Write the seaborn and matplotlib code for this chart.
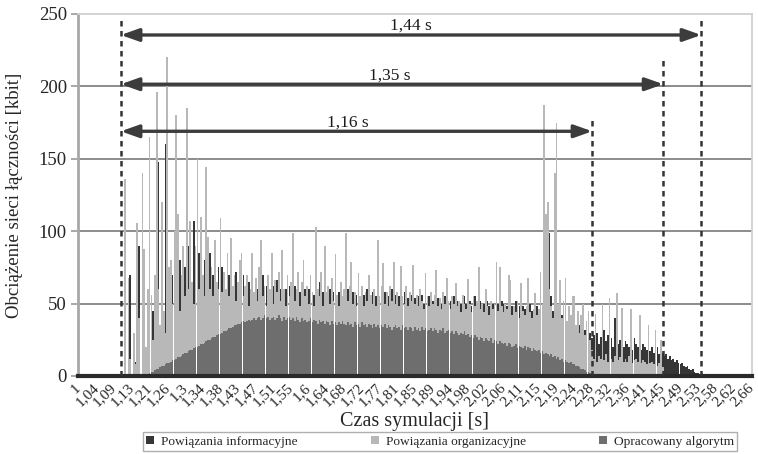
import numpy as np
import pandas as pd
import matplotlib
matplotlib.use("Agg")
import matplotlib.pyplot as plt
import seaborn as sns
from matplotlib.patches import Patch
from matplotlib.font_manager import FontProperties

# Simulation-time tick labels (one label every 10 samples)
tick_labels = ["1", "1,04", "1,09", "1,13", "1,21", "1,26", "1,3", "1,34", "1,38",
               "1,43", "1,47", "1,51", "1,55", "1,6", "1,64", "1,68", "1,72", "1,77",
               "1,81", "1,85", "1,89", "1,94", "1,98", "2,02", "2,06", "2,11", "2,15",
               "2,19", "2,24", "2,28", "2,32", "2,36", "2,41", "2,45", "2,49", "2,53",
               "2,58", "2,62", "2,66"]

# Network load [kbit] per sample, ten samples per row
informacyjne = [
    0, 0, 0, 0, 0, 0, 0, 0, 0, 0,
    0, 0, 0, 0, 0, 0, 0, 0, 0, 0,
    0, 0, 0, 0, 0, 0, 0, 0, 0, 70,
    0, 0, 10, 0, 90, 0, 0, 0, 0, 0,
    0, 0, 45, 0, 0, 148, 0, 60, 0, 160,
    0, 40, 0, 70, 0, 0, 0, 80, 0, 0,
    75, 0, 90, 0, 0, 107, 0, 0, 85, 0,
    60, 80, 0, 0, 85, 0, 70, 0, 50, 75,
    40, 75, 45, 50, 40, 70, 45, 50, 60, 72,
    50, 45, 55, 70, 48, 52, 65, 50, 78, 45,
    45, 60, 50, 48, 70, 45, 62, 48, 50, 80,
    62, 45, 66, 50, 60, 45, 48, 60, 50, 62,
    48, 55, 62, 50, 45, 58, 50, 52, 60, 45,
    60, 48, 50, 56, 82, 45, 65, 50, 58, 80,
    50, 45, 60, 48, 58, 62, 50, 58, 45, 50,
    48, 62, 60, 50, 45, 58, 50, 56, 45, 48,
    45, 56, 50, 60, 48, 45, 58, 50, 55, 52,
    48, 45, 50, 58, 46, 55, 45, 60, 50, 56,
    45, 55, 48, 42, 58, 45, 54, 46, 56, 50,
    54, 45, 55, 48, 56, 50, 46, 52, 55, 44,
    52, 44, 48, 54, 42, 50, 46, 55, 45, 50,
    52, 42, 55, 46, 52, 44, 50, 42, 55, 50,
    45, 52, 48, 44, 55, 42, 50, 52, 44, 50,
    44, 52, 48, 42, 50, 45, 52, 50, 44, 52,
    50, 42, 48, 45, 40, 48, 42, 52, 40, 48,
    40, 48, 46, 44, 42, 50, 45, 42, 40, 48,
    45, 50, 48, 60, 70, 80, 99, 55, 45, 40,
    70, 45, 40, 42, 35, 40, 36, 32, 38, 30,
    32, 30, 28, 35, 26, 30, 32, 28, 27, 30,
    26, 28, 24, 30, 22, 27, 25, 32, 24, 28,
    22, 26, 20, 40, 24, 22, 25, 28, 20, 24,
    22, 20, 24, 18, 26, 22, 20, 25, 18, 22,
    20, 18, 22, 17, 20, 16, 18, 20, 15, 17,
    16, 14, 15, 12, 14, 11, 12, 10, 11, 9,
    8, 9, 7, 6, 7, 5, 4, 5, 3, 2,
    2, 1, 0, 0, 0, 0, 0, 0, 0, 0,
    0, 0, 0, 0, 0, 0, 0, 0, 0, 0,
    0, 0, 0, 0, 0, 0, 0, 0, 0, 0,
    0]

organizacyjne = [
    0, 0, 0, 0, 0, 0, 0, 0, 0, 0,
    0, 0, 0, 0, 0, 0, 0, 0, 0, 0,
    0, 0, 0, 0, 0, 0, 136, 0, 68, 12,
    0, 30, 8, 106, 40, 0, 140, 88, 20, 60,
    165, 56, 25, 70, 196, 60, 35, 120, 45, 30,
    220, 75, 80, 50, 100, 180, 112, 45, 70, 90,
    55, 185, 60, 107, 65, 50, 90, 150, 60, 110,
    70, 55, 144, 96, 60, 75, 55, 94, 65, 60,
    109, 58, 72, 60, 85, 55, 95, 62, 70, 52,
    65, 80, 85, 55, 62, 70, 48, 60, 85, 58,
    68, 52, 75, 94, 55, 62, 48, 70, 60, 85,
    50, 66, 58, 72, 52, 87, 60, 48, 70, 55,
    65, 99, 52, 60, 72, 48, 65, 80, 55, 62,
    50, 70, 58, 48, 103, 60, 55, 72, 48, 90,
    58, 62, 50, 68, 52, 84, 56, 48, 65, 55,
    60, 99, 52, 62, 79, 50, 58, 48, 71, 55,
    62, 48, 58, 52, 70, 56, 50, 60, 48, 94,
    55, 62, 78, 50, 58, 48, 62, 52, 79, 50,
    58, 48, 76, 55, 50, 62, 48, 58, 52, 77,
    50, 56, 48, 60, 52, 46, 71, 55, 48, 58,
    50, 56, 73, 48, 54, 46, 58, 50, 68, 52,
    46, 55, 50, 64, 48, 52, 44, 56, 50, 46,
    67, 50, 44, 55, 48, 52, 75, 46, 50, 44,
    60, 48, 42, 52, 46, 50, 79, 45, 75, 48,
    44, 50, 46, 70, 66, 42, 48, 44, 52, 40,
    64, 45, 42, 48, 68, 44, 40, 46, 57, 42,
    46, 72, 50, 187, 112, 120, 60, 48, 40, 140,
    175, 50, 66, 40, 52, 68, 38, 48, 42, 55,
    55, 35, 45, 30, 42, 50, 28, 38, 45, 25,
    18, 12, 43, 10, 14, 12, 50, 11, 15, 10,
    54, 12, 10, 14, 57, 11, 13, 47, 10, 12,
    10, 14, 46, 9, 11, 12, 10, 42, 9, 11,
    10, 8, 35, 9, 10, 8, 32, 7, 9, 25,
    6, 0, 0, 0, 0, 0, 0, 0, 0, 0,
    0, 0, 0, 0, 0, 0, 0, 0, 0, 0,
    0, 0, 0, 0, 0, 0, 0, 0, 0, 0,
    0, 0, 0, 0, 0, 0, 0, 0, 0, 0,
    0, 0, 0, 0, 0, 0, 0, 0, 0, 0,
    0]

algorytm = [
    0, 0, 0, 0, 0, 0, 0, 0, 0, 0,
    0, 0, 0, 0, 0, 0, 0, 0, 0, 0,
    0, 0, 0, 0, 0, 0, 0, 0, 0, 0,
    0, 0, 0, 0, 0, 0, 0, 0, 0, 0,
    2, 3, 3, 4, 5, 5, 6, 7, 7, 8,
    9, 9, 10, 11, 11, 12, 13, 13, 14, 15,
    16, 16, 17, 18, 18, 19, 20, 20, 21, 22,
    22, 23, 24, 25, 25, 26, 27, 27, 28, 29,
    29, 30, 31, 31, 32, 33, 33, 34, 35, 35,
    36, 36, 37, 38, 37, 38, 39, 38, 39, 40,
    39, 40, 41, 39, 40, 42, 40, 41, 39, 40,
    41, 39, 40, 42, 40, 38, 41, 39, 40, 41,
    39, 40, 38, 41, 39, 37, 40, 38, 39, 37,
    38, 40, 37, 39, 38, 36, 39, 37, 38, 36,
    38, 37, 35, 38, 36, 37, 35, 37, 36, 38,
    36, 35, 37, 35, 36, 34, 37, 35, 36, 34,
    37, 35, 36, 34, 36, 35, 33, 36, 34, 35,
    33, 35, 34, 36, 33, 35, 34, 32, 34, 35,
    33, 34, 32, 35, 33, 34, 32, 34, 33, 31,
    34, 32, 33, 31, 34, 32, 33, 31, 32, 33,
    31, 33, 32, 30, 32, 31, 33, 30, 31, 32,
    30, 31, 29, 31, 30, 28, 30, 29, 31, 28,
    29, 27, 28, 26, 28, 27, 25, 27, 26, 24,
    26, 25, 24, 26, 23, 25, 24, 22, 24, 23,
    22, 23, 21, 23, 22, 20, 21, 22, 19, 21,
    20, 19, 21, 18, 20, 19, 17, 19, 18, 17,
    18, 16, 17, 15, 16, 15, 14, 15, 13, 14,
    12, 13, 11, 12, 10, 11, 10, 9, 10, 8,
    8, 7, 7, 6, 5, 5, 4, 3, 3, 2,
    1, 0, 0, 0, 0, 0, 0, 0, 0, 0,
    0, 0, 0, 0, 0, 0, 0, 0, 0, 0,
    0, 0, 0, 0, 0, 0, 0, 0, 0, 0,
    0, 0, 0, 0, 0, 0, 0, 0, 0, 0,
    0, 0, 0, 0, 0, 0, 0, 0, 0, 0,
    0, 0, 0, 0, 0, 0, 0, 0, 0, 0,
    0, 0, 0, 0, 0, 0, 0, 0, 0, 0,
    0, 0, 0, 0, 0, 0, 0, 0, 0, 0,
    0, 0, 0, 0, 0, 0, 0, 0, 0, 0,
    0]

series_names = ["Powiązania informacyjne", "Powiązania organizacyjne", "Opracowany algorytm"]
duration_labels = ["1,44 s", "1,35 s", "1,16 s"]

DARK = "#363636"
LIGHT = "#b8b8b8"
MID = "#6e6e6e"
ARROW = "#3c3c3c"
SERIF = ["Liberation Serif", "DejaVu Serif"]

sns.set_theme(style="white")
plt.rcParams["font.family"] = SERIF

W, H = 758, 454
fig = plt.figure(figsize=(W / 100, H / 100), dpi=100)
ax = fig.add_axes([78 / W, 1 - 376 / H, (752 - 78) / W, (376 - 14) / H])

n = len(algorytm)
df = pd.DataFrame({"k": np.arange(n), "inf": informacyjne,
                   "org": organizacyjne, "alg": algorytm})

# grid behind the bars
for yv in [50, 100, 150, 200]:
    ax.axhline(yv, color="#8c8c8c", lw=1.4, zorder=0)

# overlapping columns: informacyjne at the back, algorytm in front
for col, color in [("inf", DARK), ("org", LIGHT), ("alg", MID)]:
    sns.barplot(data=df, x="k", y=col, color=color, width=0.95, errorbar=None,
                saturation=1, linewidth=0, ax=ax, zorder=2)

ax.set_xlim(-0.5, n - 0.5)
ax.set_ylim(0, 250)
ax.set_yticks([0, 50, 100, 150, 200, 250])
ax.set_xticks(np.arange(0, n, 10))
ax.set_xticklabels(tick_labels, rotation=45, ha="right", va="center",
                   rotation_mode="anchor", fontsize=11)
ax.tick_params(axis="x", length=0, pad=7)
ax.tick_params(axis="y", length=5, width=1.2, color="#9a9a9a", labelsize=13.5, pad=3,
               left=True)
ax.set_xlabel("Czas symulacji [s]", fontsize=14.5)
ax.xaxis.set_label_coords(0.5, -0.099)
ax.set_ylabel("Obciążenie sieci łączności [kbit]", fontsize=13.5)
ax.yaxis.set_label_coords(-0.082, 0.5)

for side in ["top", "right"]:
    ax.spines[side].set_color("#cfcfcf")
    ax.spines[side].set_linewidth(1.3)
ax.spines["left"].set_color("#a8a8a8")
ax.spines["left"].set_linewidth(2.0)
ax.spines["bottom"].set_color("#2a2a2a")
ax.spines["bottom"].set_linewidth(3.0)


def last_nonzero(vals):
    return max(i for i, v in enumerate(vals) if v > 0)


# duration markers: common start, each series ends after its last sample
start = 23.7
ends = [last_nonzero(informacyjne) + 0.8,
        last_nonzero(organizacyjne) + 0.4,
        last_nonzero(algorytm) + 0.2]
arrow_y = [235.5, 201.5, 169]
line_top = [247, 218, 178]
text_x = [187.7, 175.9, 152.2]

dash = (0, (2.2, 1.8))
ax.vlines(start, 0, 247, colors="#333333", lw=1.8, linestyles=[dash], zorder=5)
for e, ay, top, tx, lab in zip(ends, arrow_y, line_top, text_x, duration_labels):
    ax.vlines(e, 0, top, colors="#333333", lw=1.8, linestyles=[dash], zorder=5)
    ax.annotate("", xy=(e, ay), xytext=(start, ay),
                arrowprops=dict(arrowstyle="<|-|>,head_length=0.9,head_width=0.32",
                                color=ARROW, lw=2.4, shrinkA=0, shrinkB=0),
                zorder=6)
    ax.text(tx, ay + 3.5, lab, ha="center", va="baseline", fontsize=12.5,
            color="#1a1a1a", zorder=6)

handles = [Patch(facecolor=c, edgecolor="none") for c in (DARK, LIGHT, MID)]
leg = fig.legend(handles, series_names, loc="lower left", ncol=3, mode="expand",
                 bbox_to_anchor=(143 / W, 3 / H, (737 - 143) / W, 21 / H),
                 prop=FontProperties(family="Liberation Serif", size=9.6),
                 frameon=True, fancybox=False,
                 handlelength=0.6, handleheight=0.6, handletextpad=0.5,
                 borderpad=0.25, borderaxespad=0)
leg.get_frame().set_edgecolor("#9a9a9a")
leg.get_frame().set_linewidth(1.0)

fig.savefig("out.png", dpi=100)
